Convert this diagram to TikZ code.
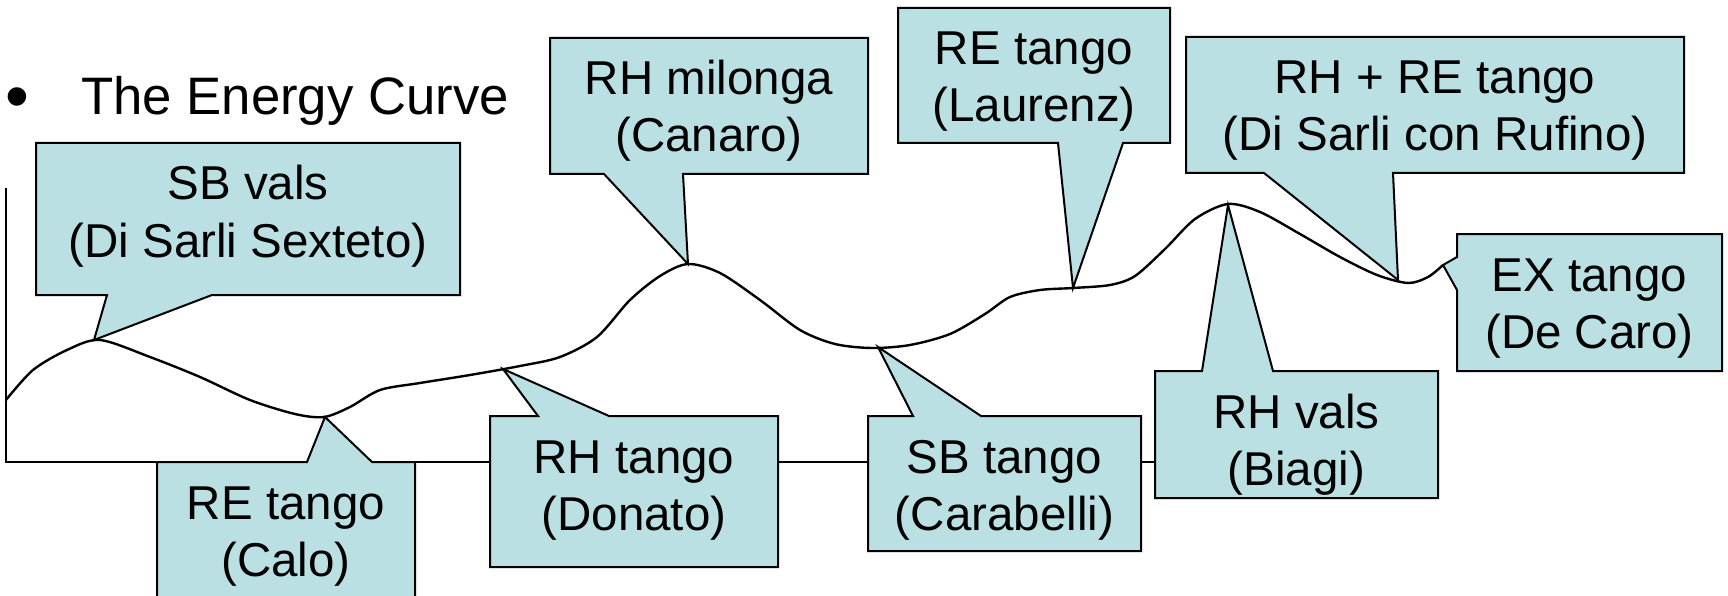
\documentclass[tikz,border=0pt]{standalone}
\usepackage{fontspec}
\setmainfont{Liberation Sans}
\definecolor{callfill}{RGB}{187,224,227}
\begin{document}
\begin{tikzpicture}[x=1pt,y=-1pt,line join=miter]
\tikzset{
  callout/.style={draw=black,fill=callfill,line width=2pt},
  lbl/.style={anchor=base,inner sep=0pt,font=\fontsize{47.5}{57}\selectfont},
  title/.style={anchor=base west,inner sep=0pt,font=\fontsize{52.7}{63}\selectfont},
  bulletstyle/.style={anchor=base west,inner sep=0pt,font=\fontsize{68}{80}\selectfont},
  curveline/.style={line width=2.4pt},
  axisline/.style={line width=2pt}
}
\useasboundingbox (0,0) rectangle (1728,596);
% title
\node[bulletstyle] (bullet) at (5,120) {•};
\node[title] (ttl) at (81,115) {The Energy Curve};
% axes
\coordinate (axtop) at (6,188);
\coordinate (origin) at (6,461.5);
\coordinate (axend) at (1300,461.5);
\draw[axisline] (axtop) -- (origin) -- (axend);
% curve
\draw[curveline] plot[smooth,tension=0.5] coordinates {
 (6,400) (33,370) (67,350) (100,340) (150,357) (200,377) (250,400) (295,414) (324,417)
 (350,407) (380,390) (420,383) (470,375) (520,366) (560,357) (597,337) (630,300) (660,276) (688,264)
 (720,273) (760,300) (800,330) (835,344) (872,348) (910,345) (950,334) (985,314) (1010,297) (1040,290) (1073,288)
 (1110,285) (1135,276) (1165,249) (1195,219) (1228,204) (1260,212) (1300,234) (1340,257) (1377,275)
 (1408,283) (1428,277) (1443,265)};
% tips
\coordinate (tSBv) at (94,340);
\coordinate (tCalo) at (325,417);
\coordinate (tDon) at (503,369);
\coordinate (tMil) at (688,264);
\coordinate (tSBt) at (878,347);
\coordinate (tLau) at (1073,288);
\coordinate (tBia) at (1228,205);
\coordinate (tRuf) at (1398,280);
\coordinate (tEX) at (1443,265);
% callouts
\draw[callout] (36,143) -- (460,143) -- (460,295) -- (212,295) -- (tSBv) -- (107,295) -- (36,295) -- cycle;
\node[lbl] (sbv1) at (248,200) {SB vals};
\node[lbl] (sbv2) at (248,257) {(Di Sarli Sexteto)};

\draw[callout] (157,462) -- (307,462) -- (tCalo) -- (372,462) -- (415,462) -- (415,620) -- (157,620) -- cycle;
\node[lbl] (calo1) at (286,519) {RE tango};
\node[lbl] (calo2) at (286,576) {(Calo)};

\draw[callout] (490,416) -- (538,416) -- (tDon) -- (609,416) -- (778,416) -- (778,567) -- (490,567) -- cycle;
\node[lbl] (don1) at (634,473) {RH tango};
\node[lbl] (don2) at (634,530) {(Donato)};

\draw[callout] (550,38) -- (868,38) -- (868,174) -- (683,174) -- (tMil) -- (604,174) -- (550,174) -- cycle;
\node[lbl] (mil1) at (709,95) {RH milonga};
\node[lbl] (mil2) at (709,152) {(Canaro)};

\draw[callout] (868,416) -- (913,416) -- (tSBt) -- (981,416) -- (1141,416) -- (1141,551) -- (868,551) -- cycle;
\node[lbl] (sbt1) at (1004.5,473) {SB tango};
\node[lbl] (sbt2) at (1004.5,530) {(Carabelli)};

\draw[callout] (898,8) -- (1170,8) -- (1170,143) -- (1123,143) -- (tLau) -- (1058,143) -- (898,143) -- cycle;
\node[lbl] (lau1) at (1034,65) {RE tango};
\node[lbl] (lau2) at (1034,122) {(Laurenz)};

\draw[callout] (1186,37) -- (1684,37) -- (1684,173) -- (1393,173) -- (tRuf) -- (1264,173) -- (1186,173) -- cycle;
\node[lbl] (ruf1) at (1435,94) {RH + RE tango};
\node[lbl] (ruf2) at (1435,151) {(Di Sarli con Rufino)};

\draw[callout] (1155,371) -- (1202,371) -- (tBia) -- (1273,371) -- (1438,371) -- (1438,498) -- (1155,498) -- cycle;
\node[lbl] (bia1) at (1296.5,428) {RH vals};
\node[lbl] (bia2) at (1296.5,485) {(Biagi)};

\draw[callout] (1457,234) -- (1722,234) -- (1722,371) -- (1457,371) -- (1457,290) -- (tEX) -- (1457,257) -- cycle;
\node[lbl] (ex1) at (1589.5,291) {EX tango};
\node[lbl] (ex2) at (1589.5,348) {(De Caro)};
\end{tikzpicture}
\end{document}
